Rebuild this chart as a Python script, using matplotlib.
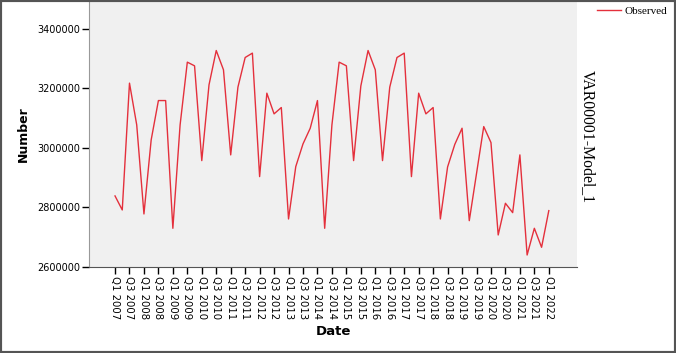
import matplotlib.pyplot as plt
import numpy as np

# quarterly values, Q1 2007 .. Q1 2022
observed = [2838700, 2791600, 3217500, 3077300, 2778150, 3026900, 3159000, 3159000,
            2730000, 3077000, 3288000, 3275600, 2957300, 3211800, 3327100, 3262200,
            2976500, 3204000, 3303600, 3318300, 2903600, 3183800, 3114300, 3135600,
            2761300, 2937200, 3013400, 3066100, 3159000, 2730000, 3077000, 3288000,
            3275600, 2957300, 3208000, 3327100, 3262200, 2957300, 3204000, 3303600,
            3318300, 2903600, 3183800, 3114300, 3135600, 2761300, 2936000, 3012000,
            3066100, 2755600, 2913700, 3071600, 3017900, 2707600, 2814000, 2782600,
            2976500, 2640300, 2730000, 2666200, 2789300]
years = list(range(2007, 2023))
quarter_labels = []
for y in years:
    for q in [1, 2, 3, 4]:
        quarter_labels.append(f'Q{q} {y}')
quarter_labels = quarter_labels[:len(observed)]
y_ticks = [2600000, 2800000, 3000000, 3200000, 3400000]

fig = plt.figure(figsize=(6.76, 3.53), dpi=100)
ax = fig.add_axes([89/676, 86/353, 488/676, 265/353])
ax.set_facecolor('#f0f0f0')

x = np.arange(len(observed))
ax.plot(x, observed, color='#e4303c', linewidth=1.0, label='Observed')

ax.set_xlim(-3.6, 63.9)
ax.set_ylim(2600000, 3490000)
ax.set_yticks(y_ticks)
ax.set_yticklabels([str(v) for v in y_ticks], fontsize=7)
ax.set_xticks(x[::2])
ax.set_xticklabels(quarter_labels[::2], rotation=270, fontsize=7.3)
ax.tick_params(axis='both', direction='out', length=5, width=1, color='black', pad=1.5)

for s in ['top', 'right']:
    ax.spines[s].set_visible(False)
ax.spines['left'].set_color('#999999')
ax.spines['bottom'].set_color('#555555')

ax.set_ylabel('Number', fontsize=9, fontweight='bold', labelpad=5)
ax.set_xlabel('Date', fontsize=9.5, fontweight='bold', labelpad=4)

leg = fig.legend(loc='upper right', bbox_to_anchor=(672/676, 351/353), frameon=False,
                 prop={'family': 'Liberation Serif', 'size': 8}, handlelength=2.2,
                 handletextpad=0.3, borderaxespad=0)

fig.text(588/676, 1 - 137/353, 'VAR00001-Model_1', rotation=270, ha='center', va='center',
         family='Liberation Serif', fontsize=11.3)

# outer frame
fig.patches.append(plt.Rectangle((0, 0), 1, 1, transform=fig.transFigure, fill=False,
                                 edgecolor='#555555', linewidth=3))

fig.savefig('out.png', dpi=100)
